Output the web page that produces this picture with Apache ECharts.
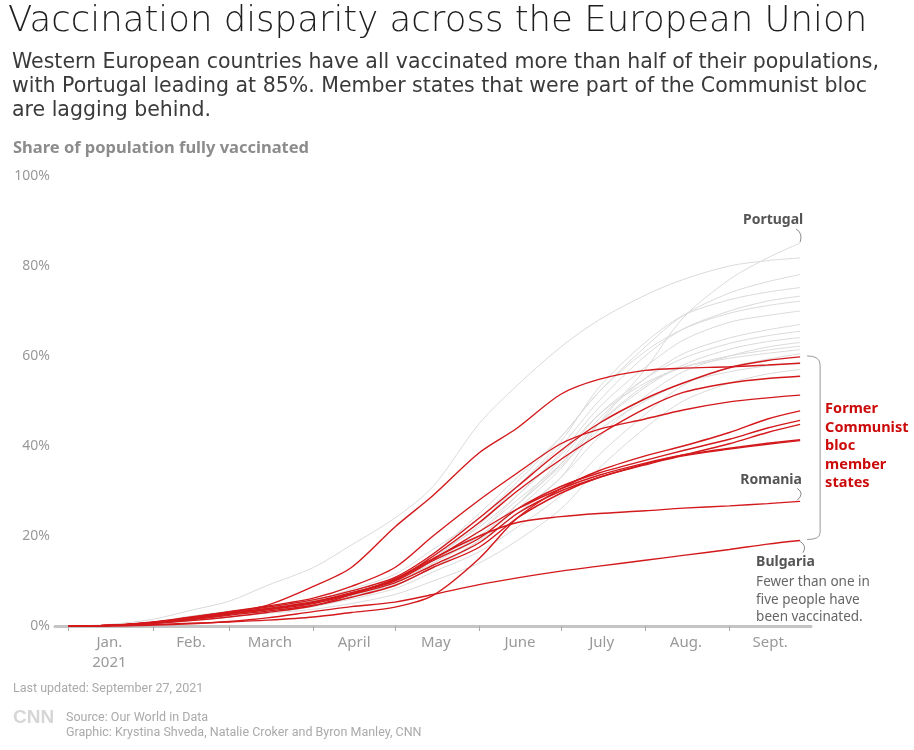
<!DOCTYPE html>
<html>
<head>
<meta charset="utf-8">
<title>Vaccination disparity across the European Union</title>
<script src="https://cdn.jsdelivr.net/npm/echarts@6.0.0/dist/echarts.min.js"></script>
<style>
  html, body { margin: 0; padding: 0; background: #fff; }
  #chart { width: 914px; height: 750px; }
</style>
</head>
<body>
<div id="chart"></div>
<script>
// Sample dates (2021) for every line
var sampleDates = ['2021-01-01', '2021-01-15', '2021-02-01', '2021-02-15', '2021-03-01', '2021-03-15',
  '2021-04-01', '2021-04-15', '2021-05-01', '2021-05-15', '2021-06-01', '2021-06-15',
  '2021-07-01', '2021-07-15', '2021-08-01', '2021-08-15', '2021-09-01', '2021-09-15', '2021-09-27'];

// Western EU members (grey), share fully vaccinated, %
var portugal = [0, 0.1, 0.6, 1.5, 2.4, 3.3, 4.7, 6.5, 9, 13, 19, 25, 33, 45, 57, 68.5, 77, 81.8, 85.1];
var malta    = [0, 0.3, 1.5, 3.5, 5.5, 9, 13, 18, 24, 31, 45, 53.5, 62, 68, 73.5, 77, 80, 81.2, 81.8];
var grey3  = [0, 0.1, 0.7, 1.6, 2.8, 3.7, 5.6, 8.2, 11.5, 17, 24, 32, 42, 52, 62, 69, 74, 76.5, 78.1];
var grey4  = [0, 0.1, 0.8, 1.9, 2.9, 4, 5.7, 7.8, 10.5, 15, 22.5, 31, 41, 53, 63, 69, 72.5, 74.2, 75.2];
var grey5  = [0, 0.1, 0.7, 1.8, 2.8, 3.6, 5, 6.9, 9.6, 15, 23, 31, 40, 50, 60, 66, 70, 72.2, 73.3];
var grey6  = [0, 0, 0.4, 1.2, 2, 3, 4.3, 6.5, 10, 16, 25, 33, 42, 52, 61, 66, 69.5, 71.2, 72.2];
var grey7  = [0, 0.1, 0.7, 1.7, 2.7, 3.7, 5, 7, 9.8, 14.5, 21, 29, 38.5, 48.5, 57.5, 63.5, 67.5, 69, 70];
var grey8  = [0, 0, 0.5, 1.5, 2.5, 3.5, 5, 6.8, 9.5, 14, 20, 27, 36, 46, 55, 60.5, 64, 65.8, 67];
var grey9  = [0, 0.1, 0.6, 1.6, 2.6, 3.6, 4.8, 6.5, 9, 13, 19, 27, 37, 47, 55, 59.5, 62.8, 64.5, 65.5];
var grey10 = [0, 0.1, 0.8, 1.9, 3, 4, 5.3, 7, 9.8, 14.5, 21, 28, 36, 45, 53, 58, 61.5, 63.2, 64.1];
var grey11 = [0, 0.1, 0.6, 1.5, 2.6, 3.5, 4.9, 6.8, 9.2, 13, 18.5, 25, 33, 42, 51, 56.5, 60, 62, 63];
var grey12 = [0, 0.1, 0.7, 1.7, 2.8, 3.8, 5.2, 7.2, 10, 14, 19.5, 26, 35, 45, 53.5, 57.5, 60, 61.3, 62.2];
var grey13 = [0, 0.1, 0.8, 2, 3.1, 4.2, 5.6, 7.5, 10.5, 15.5, 22, 29, 38, 47, 54, 57.5, 59.5, 60.6, 61.4];
var grey14 = [0, 0, 0.5, 1.3, 2.3, 3.2, 4.4, 6, 8.3, 12, 16.5, 22, 29, 38, 47, 53.5, 57.5, 59.3, 60.5];
var grey15 = [0, 0.1, 0.9, 2.2, 3.3, 4.4, 5.8, 7.8, 10.6, 14.5, 20, 27, 35.5, 43.5, 50, 54, 56.5, 57.8, 58.5];
var grey16 = [0, 0, 0.4, 1.2, 2, 2.8, 3.7, 5, 7, 10, 14, 19, 26, 35, 44, 50, 54, 56, 57];

// Former Communist bloc members (red)
var red1    = [0, 0.1, 0.9, 2.0, 3.1, 4.2, 5.8, 7.8, 10.8, 16, 24, 31, 39, 45, 50.5, 54, 57.4, 59, 59.8];
var hungary = [0, 0.1, 0.8, 1.8, 3.0, 4.6, 8.8, 13, 22, 29, 38.5, 44, 51.5, 54.8, 56.8, 57.3, 57.6, 58.0, 58.4];
var red3    = [0, 0.1, 0.7, 1.7, 2.9, 3.9, 5.4, 7.4, 10.2, 15.5, 23, 30, 37, 42.5, 48.3, 51.9, 54, 55, 55.5];
var red4    = [0, 0.1, 0.8, 1.9, 3.2, 4.4, 6.2, 8.8, 13, 20, 28, 34, 40.5, 43.7, 46, 48, 49.8, 50.7, 51.3];
var red5    = [0, 0, 0.3, 0.6, 0.9, 1.3, 2.0, 3.0, 4.2, 6.8, 15, 24, 30.5, 34.5, 37.8, 40, 43, 46, 47.8];
var red6    = [0, 0.1, 0.8, 1.8, 2.9, 3.8, 5.2, 7.2, 10, 14.5, 19.5, 26, 31, 34, 36.8, 39, 41.5, 44, 45.7];
var red7    = [0, 0.1, 0.6, 1.5, 2.6, 3.6, 5.0, 7.0, 9.6, 13.5, 18.5, 25, 30, 33, 36, 38, 40.5, 43, 44.8];
var red8    = [0, 0.1, 0.7, 1.6, 2.7, 3.7, 5.3, 7.3, 10.3, 14.8, 21, 26, 30.5, 33.5, 36.2, 38, 39.5, 40.6, 41.4];
var red9    = [0, 0.1, 0.6, 1.4, 2.4, 3.3, 4.6, 6.4, 9, 13, 17.5, 24, 29.5, 33, 35.8, 37.8, 39.3, 40.4, 41.2];
var romania  = [0, 0.1, 0.6, 1.2, 2.0, 3.0, 4.5, 7.0, 10.5, 15, 20, 23, 24.3, 25, 25.6, 26.2, 26.7, 27.2, 27.7];
var bulgaria = [0, 0, 0.2, 0.5, 1.0, 1.8, 3.2, 4.3, 5.3, 7.0, 9.2, 10.7, 12.2, 13.3, 14.6, 15.7, 17, 18.2, 19];

var greyLines = [portugal, malta, grey3, grey4, grey5, grey6, grey7, grey8, grey9, grey10,
  grey11, grey12, grey13, grey14, grey15, grey16];
var redLines = [red1, hungary, red3, red4, red5, red6, red7, red8, red9, romania, bulgaria];

// x axis: month ticks, labels centred mid-month
var monthStarts = ['2021-01-01', '2021-02-01', '2021-03-01', '2021-04-01', '2021-05-01',
  '2021-06-01', '2021-07-01', '2021-08-01', '2021-09-01'];
var monthMids = ['2021-01-16', '2021-02-15', '2021-03-16', '2021-04-16', '2021-05-16',
  '2021-06-16', '2021-07-16', '2021-08-16', '2021-09-16'];
var monthNames = ['Jan.\n2021', 'Feb.', 'March', 'April', 'May', 'June', 'July', 'Aug.', 'Sept.'];

function ts(s) {
  var p = s.split('-');
  return Date.UTC(+p[0], +p[1] - 1, +p[2]);
}

function toPairs(values) {
  return values.map(function (v, i) { return [ts(sampleDates[i]), v]; });
}

var series = [];
greyLines.forEach(function (vals) {
  series.push({
    type: 'line', data: toPairs(vals), showSymbol: false, smooth: 0.3, silent: true,
    lineStyle: { color: '#dadada', width: 1 }, z: 2
  });
});
redLines.forEach(function (vals) {
  series.push({
    type: 'line', data: toPairs(vals), showSymbol: false, smooth: 0.3, silent: true,
    lineStyle: { color: '#d3191c', width: 1.4 }, z: 3
  });
});

var option = {
  animation: false,
  backgroundColor: '#fff',
  grid: { left: 55, right: 103, top: 176, bottom: 124, outerBoundsMode: 'none' },
  xAxis: {
    type: 'value',
    min: ts('2020-12-27'),
    max: ts('2021-10-01'),
    axisLine: { lineStyle: { color: '#c4c4c4', width: 3 } },
    axisTick: { show: true, length: 5, lineStyle: { color: '#aaa', width: 1 },
      customValues: monthStarts.map(ts) },
    axisLabel: {
      customValues: monthMids.map(ts),
      color: '#999', fontSize: 15, lineHeight: 20, margin: 7, fontFamily: 'Noto Sans',
      formatter: function (v) { return monthNames[new Date(v).getUTCMonth()]; }
    },
    splitLine: { show: false }
  },
  yAxis: {
    type: 'value', min: 0, max: 100, interval: 20,
    axisLine: { show: false }, axisTick: { show: false }, splitLine: { show: false },
    axisLabel: {
      color: '#999', fontSize: 14, margin: 5, fontFamily: 'Noto Sans',
      formatter: '{value}%'
    }
  },
  series: series,
  graphic: [
    { id: 'title', type: 'text', left: 8, top: 4, style: { text: 'Vaccination disparity across the European Union',
      font: '200 35.5px "DejaVu Sans"', fill: '#1e1e1e' } },
    { id: 'subtitle', type: 'text', left: 12, top: 51, style: {
      text: 'Western European countries have all vaccinated more than half of their populations,\n' +
        'with Portugal leading at 85%. Member states that were part of the Communist bloc\n' +
        'are lagging behind.',
      font: '20.5px "DejaVu Sans"', lineHeight: 24, fill: '#3a3a3a' } },
    { id: 'ylabel', type: 'text', left: 13, top: 140, style: { text: 'Share of population fully vaccinated',
      font: 'bold 16.5px "Noto Sans"', fill: '#8c8c8c' } },
    { id: 'updated', type: 'text', left: 13, top: 682, style: { text: 'Last updated: September 27, 2021',
      font: '12.5px Roboto', fill: '#aaa' } },
    { id: 'logo', type: 'text', left: 13, top: 708, style: { text: 'CNN',
      font: 'bold 19px "Liberation Sans"', fill: '#d6d6d6' } },
    { id: 'source', type: 'text', left: 66, top: 710, style: {
      text: 'Source: Our World in Data\nGraphic: Krystina Shveda, Natalie Croker and Byron Manley, CNN',
      font: '12.5px Roboto', lineHeight: 15, fill: '#aaa' } }
  ]
};

var chart = echarts.init(document.getElementById('chart'), null, { renderer: 'canvas' });
chart.setOption(option);

// annotations placed from the data through the chart scales
function px(values) {
  var last = values.length - 1;
  return chart.convertToPixel({ gridIndex: 0 }, [ts(sampleDates[last]), values[last]]);
}
var pPt = px(portugal), rPt = px(romania), bPt = px(bulgaria), topPt = px(red1);
var bx = topPt[0] + 20;
var connector = { stroke: '#888', fill: null, lineWidth: 1 };

chart.setOption({
  graphic: [
    { id: 'pLabel', type: 'text', x: pPt[0] - 27, y: pPt[1] - 23, style: { text: 'Portugal',
      font: 'bold 14px "Noto Sans"', fill: '#555', align: 'center', verticalAlign: 'middle' } },
    { id: 'pCurve', type: 'bezierCurve', shape: { x1: pPt[0] - 4, y1: pPt[1] - 14,
      cpx1: pPt[0] + 3, cpy1: pPt[1] - 10, x2: pPt[0], y2: pPt[1] - 1 }, style: connector },
    { id: 'rLabel', type: 'text', x: rPt[0] - 29, y: rPt[1] - 21, style: { text: 'Romania',
      font: 'bold 14px "Noto Sans"', fill: '#555', align: 'center', verticalAlign: 'middle' } },
    { id: 'rCurve', type: 'bezierCurve', shape: { x1: rPt[0] - 3, y1: rPt[1] - 13,
      cpx1: rPt[0] + 5, cpy1: rPt[1] - 8, x2: rPt[0] - 3, y2: rPt[1] - 1 }, style: connector },
    { id: 'bCurve', type: 'bezierCurve', shape: { x1: bPt[0], y1: bPt[1] + 1,
      cpx1: bPt[0] + 7, cpy1: bPt[1] + 5, x2: bPt[0] + 3, y2: bPt[1] + 12 }, style: connector },
    { id: 'bLabel', type: 'text', x: bPt[0] - 44, y: bPt[1] + 15, style: { text: 'Bulgaria',
      font: 'bold 14px "Noto Sans"', fill: '#555' } },
    { id: 'bNote', type: 'text', x: bPt[0] - 44, y: bPt[1] + 33, style: {
      text: 'Fewer than one in\nfive people have\nbeen vaccinated.',
      font: '13.5px "Noto Sans"', lineHeight: 17.5, fill: '#666' } },
    { id: 'brTop', type: 'bezierCurve', shape: { x1: bx - 13, y1: topPt[1] - 1,
      cpx1: bx, cpy1: topPt[1] - 1, x2: bx, y2: topPt[1] + 8 }, style: { stroke: '#999', fill: null, lineWidth: 1 } },
    { id: 'brMid', type: 'line', shape: { x1: bx, y1: topPt[1] + 8, x2: bx, y2: bPt[1] - 8 },
      style: { stroke: '#999', lineWidth: 1 } },
    { id: 'brBot', type: 'bezierCurve', shape: { x1: bx, y1: bPt[1] - 8,
      cpx1: bx, cpy1: bPt[1] - 1, x2: bx - 13, y2: bPt[1] - 1 }, style: { stroke: '#999', fill: null, lineWidth: 1 } },
    { id: 'redNote', type: 'text', x: bx + 5, y: topPt[1] + 43, style: {
      text: 'Former\nCommunist\nbloc\nmember\nstates',
      font: 'bold 14.5px "Noto Sans"', lineHeight: 18.5, fill: '#cc0a0a' } }
  ]
});

window.addEventListener('resize', function () {
  chart.resize();
});
</script>
</body>
</html>
